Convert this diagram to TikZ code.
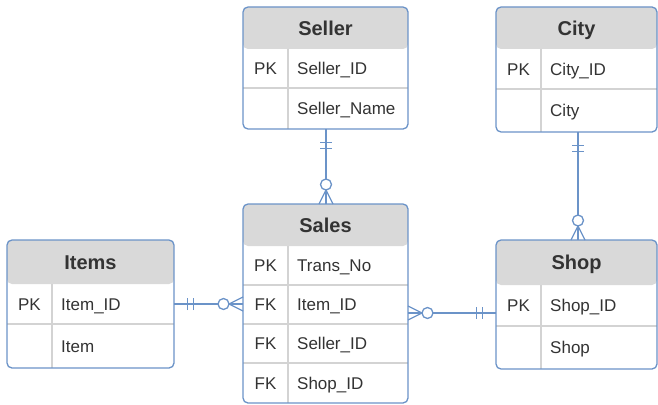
\documentclass[tikz,border=0pt]{standalone}
\usepackage{fontspec}
\setmainfont{Liberation Sans}
\usetikzlibrary{positioning,calc}

\definecolor{erblue}{HTML}{6B93C8}
\definecolor{headgray}{HTML}{D9D9D9}
\definecolor{rowgray}{HTML}{D3D3D3}
\definecolor{ertext}{HTML}{333333}

\tikzset{
  table/.style={rectangle, rounded corners=5pt, fill=white, inner sep=0pt,
    outer sep=0pt, anchor=north west,
    path picture={\fill[headgray] (path picture bounding box.north west)
      rectangle ([yshift=-#1]path picture bounding box.north east);}},
  border/.style={draw=erblue, line width=1.3pt, rounded corners=5pt},
  rowline/.style={draw=rowgray, line width=1.2pt},
  title/.style={font=\fontsize{20}{24}\selectfont\bfseries, text=ertext,
    inner sep=0pt, text height=14.3pt, text depth=0pt},
  field/.style={font=\fontsize{17}{20}\selectfont, text=ertext, anchor=west,
    inner sep=0pt, text height=12.2pt, text depth=0pt},
  key/.style={field, anchor=center},
  rel/.style={draw=erblue, line width=1.3pt},
  % markers point away from the table they sit on
  pics/mandone/.style={code={
    \draw[rel] (13.5,-6) -- (13.5,6) (19.5,-6) -- (19.5,6);}},
  pics/optmany/.style={code={
    \draw[rel] (0,-7) -- (14,0) -- (0,7);
    \draw[rel, fill=white] (19.5,0) circle (5.5);}},
}

\begin{document}
\begin{tikzpicture}[x=1pt,y=1pt]
\useasboundingbox (0,0) rectangle (658,-404);

%% tables with their grey header bands
\node[table=42, minimum width=165, minimum height=122] (seller) at (243,-7) {};
\node[table=42, minimum width=161, minimum height=125] (city) at (496,-7) {};
\node[table=42, minimum width=165, minimum height=199] (sales) at (243,-204) {};
\node[table=44, minimum width=167, minimum height=128] (items) at (7,-240) {};
\node[table=45, minimum width=161, minimum height=129] (shop) at (496,-240) {};

%% row and key column rules
\draw[rowline] (243,-88) -- (408,-88); % Seller
\draw[rowline] (288,-49) -- (288,-129);
\draw[rowline] (496,-89) -- (657,-89); % City
\draw[rowline] (541,-49) -- (541,-132);
\draw[rowline] (243,-285) -- (408,-285); % Sales
\draw[rowline] (243,-324) -- (408,-324);
\draw[rowline] (243,-363) -- (408,-363);
\draw[rowline] (288,-246) -- (288,-403);
\draw[rowline] (7,-324) -- (174,-324); % Items
\draw[rowline] (52,-284) -- (52,-368);
\draw[rowline] (496,-326) -- (657,-326); % Shop
\draw[rowline] (541,-285) -- (541,-369);

%% outlines on top of the rules
\draw[border] (seller.north west) rectangle (seller.south east);
\draw[border] (city.north west) rectangle (city.south east);
\draw[border] (sales.north west) rectangle (sales.south east);
\draw[border] (items.north west) rectangle (items.south east);
\draw[border] (shop.north west) rectangle (shop.south east);

%% Seller
\node[title] (seller-t) at ([yshift=-21]seller.north) {Seller};
\node[key] (seller-k1) at (265.5,-68.5) {PK};
\node[field] (seller-f1) at (297,-68.5) {Seller\_ID};
\node[field] (seller-f2) at (297,-108.5) {Seller\_Name};

%% City
\node[title] (city-t) at ([yshift=-21]city.north) {City};
\node[key] (city-k1) at (518.5,-69) {PK};
\node[field] (city-f1) at (550,-69) {City\_ID};
\node[field] (city-f2) at (550,-110.5) {City};

%% Sales
\node[title] (sales-t) at ([yshift=-21]sales.north) {Sales};
\node[key] (sales-k1) at (265.5,-265.5) {PK};
\node[field] (sales-f1) at (297,-265.5) {Trans\_No};
\node[key] (sales-k2) at (265.5,-304.5) {FK};
\node[field] (sales-f2) at (297,-304.5) {Item\_ID};
\node[key] (sales-k3) at (265.5,-343.5) {FK};
\node[field] (sales-f3) at (297,-343.5) {Seller\_ID};
\node[key] (sales-k4) at (265.5,-383) {FK};
\node[field] (sales-f4) at (297,-383) {Shop\_ID};

%% Items
\node[title] (items-t) at ([yshift=-22]items.north) {Items};
\node[key] (items-k1) at (29.5,-304) {PK};
\node[field] (items-f1) at (61,-304) {Item\_ID};
\node[field] (items-f2) at (61,-346) {Item};

%% Shop
\node[title] (shop-t) at ([yshift=-22.5]shop.north) {Shop};
\node[key] (shop-k1) at (518.5,-305) {PK};
\node[field] (shop-f1) at (550,-305) {Shop\_ID};
\node[field] (shop-f2) at (550,-347) {Shop};

%% relationships
\coordinate (sellerend) at ([xshift=0.5]seller.south);
\draw[rel] (sellerend) -- (sellerend |- sales.north); % Seller-Sales
\pic[rotate=-90] at (sellerend) {mandone};
\pic[rotate=90] at (sellerend |- sales.north) {optmany};

\coordinate (cityend) at ([xshift=1.5]city.south);
\draw[rel] (cityend) -- (cityend |- shop.north); % City-Shop
\pic[rotate=-90] at (cityend) {mandone};
\pic[rotate=90] at (cityend |- shop.north) {optmany};

\draw[rel] (items.east) -- (items.east -| sales.west); % Items-Sales
\pic at (items.east) {mandone};
\pic[rotate=180] at (items.east -| sales.west) {optmany};

\coordinate (shopend) at ([yshift=-9.5]sales.east);
\draw[rel] (shopend) -- (shopend -| shop.west); % Sales-Shop
\pic at (shopend) {optmany};
\pic[rotate=180] at (shopend -| shop.west) {mandone};
\end{tikzpicture}
\end{document}
